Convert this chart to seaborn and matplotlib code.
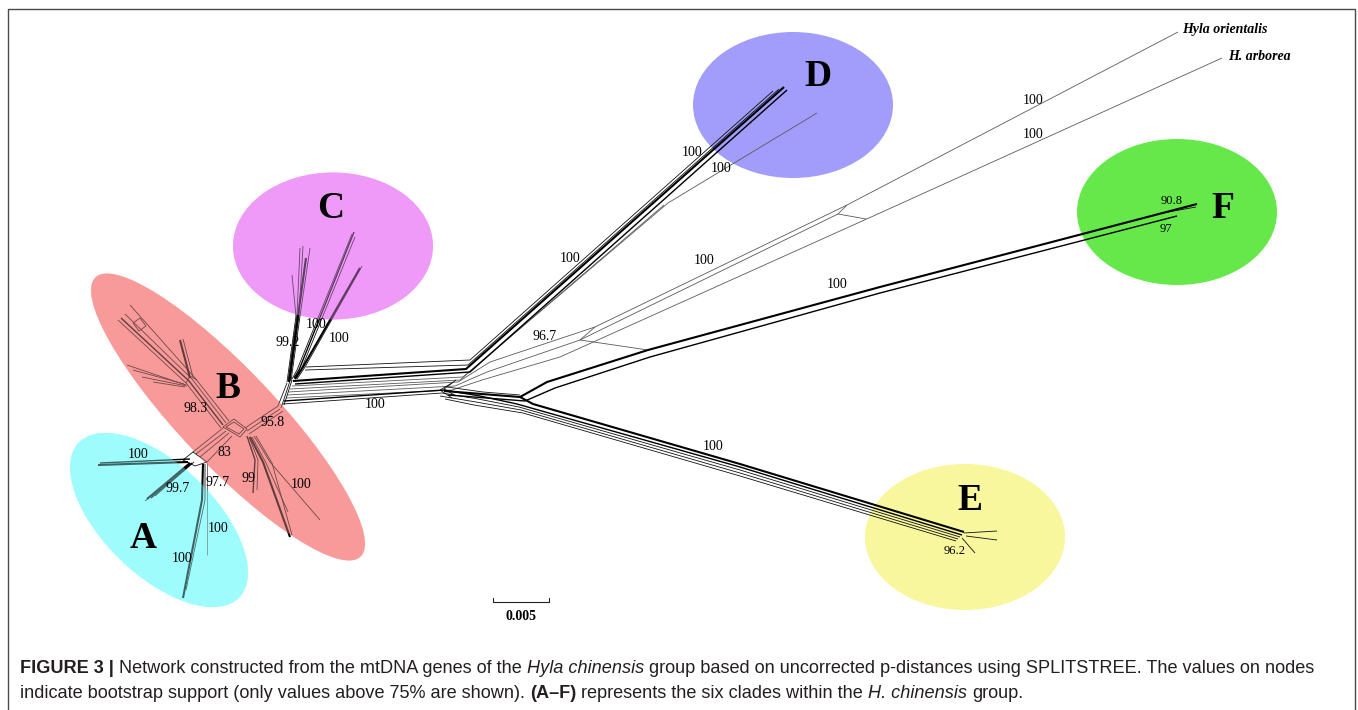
import matplotlib
matplotlib.use("Agg")
import matplotlib.pyplot as plt
from matplotlib.patches import Ellipse
import pandas as pd
import seaborn as sns

W, H = 1358, 710

# --- clade ellipses (positions in pixels of the original figure) ---
clade_names = ['A', 'B', 'C', 'D', 'E', 'F']
clade_x = [159, 228, 333, 793, 965, 1177]
clade_y = [520, 417, 246, 105, 537, 212]
clade_w = [223, 385, 200, 200, 200, 200]
clade_h = [111, 96, 147, 146, 146, 146]
clade_angle = [44, 46.5, 0, 0, 0, 0]
clade_colors = ['#9ffcfd', '#f99a9a', '#ef9af8', '#a29dfb', '#f8f79d', '#66e84b']
clade_label_x = [143, 228, 331, 818, 970, 1223]
clade_label_y = [538, 388, 209, 77, 501, 208]
tinted = ['A', 'B', 'C']   # network lines show through these ones

# --- network edges (polylines), grouped by weight ---
heavy_edges = [
    [(293, 381), (466, 369), (784, 87)],
    [(444, 391), (520, 397), (547, 382), (648, 350), (880, 287), (1197, 204)],
    [(520, 397), (533, 404), (740, 464), (964, 532)],
    [(203, 464), (202, 500), (183, 598)],
    [(190, 463), (147, 499)],
    [(188, 462), (98, 465)],
    [(250, 437), (263, 462), (290, 537)],
    [(190, 378), (180, 340)],
    [(289, 382), (298, 316), (306, 258)],
    [(295, 379), (303, 367), (360, 268)],
]
medium_edges = [
    [(295, 384), (470, 372), (787, 90)],
    [(190, 459), (100, 463)],
    [(192, 463), (151, 498)],
    [(294, 378), (299, 370), (354, 232)],
    [(247, 436), (255, 460), (253, 493)],
    [(223, 425), (189, 381), (121, 318)],
    [(284, 401), (444, 390), (480, 396), (517, 404), (740, 467), (962, 535)],
    [(448, 395), (525, 401), (555, 388), (650, 357), (880, 293), (1177, 216)],
]
thin_edges = [
    # centre to D
    [(306, 367), (470, 360), (773, 91)],
    [(305, 370), (468, 365), (779, 89)],
    # centre to E
    [(283, 404), (442, 393), (478, 399), (519, 407), (740, 470), (960, 537)],
    [(440, 396), (476, 402), (521, 410), (740, 473), (958, 539)],
    [(445, 399), (474, 405), (523, 413), (740, 476), (956, 541)],
    [(964, 533), (997, 531)],
    [(966, 536), (997, 540)],
    [(962, 538), (975, 553)],
    # hub tangles
    [(452, 383), (440, 390), (452, 398)],
    [(456, 380), (444, 389), (456, 396)],
    [(447, 387), (483, 392), (520, 395)],
    # F tip
    [(1157, 214), (1196, 207)],
    # clade A
    [(189, 466), (145, 501)],
    [(194, 462), (155, 496)],
    [(205, 464), (205, 500), (186, 590)],
    [(183, 460), (193, 452), (207, 462), (195, 466), (183, 460)],
    [(193, 452), (223, 428)],
    [(196, 454), (226, 431)],
    [(200, 457), (229, 433)],
    [(207, 462), (232, 436)],
    # clade B
    [(223, 427), (234, 419), (247, 429), (240, 437), (223, 427)],
    [(226, 427), (234, 422), (244, 429), (239, 434), (226, 427)],
    [(245, 428), (278, 406)],
    [(247, 431), (280, 409)],
    [(249, 434), (283, 411)],
    [(226, 423), (192, 379), (125, 314)],
    [(229, 421), (195, 378), (130, 305)],
    [(221, 428), (186, 383), (118, 320)],
    [(186, 383), (190, 376), (197, 380)],
    [(193, 377), (183, 339)],
    [(186, 385), (127, 365)],
    [(187, 386), (142, 377)],
    [(185, 387), (153, 382)],
    [(184, 384), (133, 370)],
    [(133, 323), (140, 318), (146, 326), (139, 331), (133, 323)],
    [(249, 437), (258, 460), (257, 490)],
    [(252, 437), (266, 463), (288, 512)],
    [(254, 436), (270, 462), (320, 520)],
    [(256, 436), (272, 463), (292, 535)],
    # clade C
    [(278, 406), (287, 383)],
    [(281, 408), (290, 381)],
    [(284, 405), (292, 380)],
    [(287, 382), (296, 316), (292, 275)],
    [(288, 382), (297, 315), (300, 248)],
    [(290, 381), (299, 315), (303, 246)],
    [(291, 381), (300, 316), (310, 248)],
    [(292, 379), (297, 370), (352, 234)],
    [(296, 378), (301, 370), (355, 237)],
    [(297, 379), (305, 367), (362, 266)],
]
faint_edges = [
    [(292, 386), (463, 377), (668, 203), (817, 113)],
    [(290, 389), (460, 380), (664, 205)],
    [(288, 392), (458, 382), (490, 362), (595, 327), (847, 205), (1178, 32)],
    [(287, 395), (455, 386), (487, 372), (580, 340), (838, 214), (866, 219)],
    [(286, 398), (452, 390), (482, 380), (560, 357), (880, 213), (1222, 58)],
    [(595, 327), (580, 340), (648, 350)],
    [(847, 205), (838, 214)],
    [(207, 463), (207, 555)],
]

# --- bootstrap values ---
boot_text = ['100', '99.7', '97.7', '100', '100', '98.3', '83', '99', '100', '95.8',
             '99.2', '100', '100', '100', '96.7', '100', '100', '100', '100', '100',
             '100', '100', '100']
boot_x = [138, 178, 218, 218, 182, 196, 224, 248, 301, 273,
          288, 316, 339, 375, 545, 570, 692, 721, 704, 1033,
          1033, 837, 713]
boot_y = [455, 489, 483, 529, 559, 408, 452, 479, 485, 423,
          343, 325, 338, 405, 336, 258, 153, 169, 260, 101,
          135, 285, 446]
small_text = ['90.8', '97', '96.2']
small_x = [1172, 1166, 955]
small_y = [201, 229, 551]

taxa = ['Hyla orientalis', 'H. arborea']
taxa_x = [1182, 1228]
taxa_y = [30, 57]

scale_x = [493, 493, 549, 549]
scale_y = [598, 602, 602, 598]

frame_x = [7.5, 7.5, 1355, 1355]
frame_y = [710, 8.5, 8.5, 710]

caption_lines = [
    [("FIGURE 3 |", 'bold', 'normal'),
     ("Network constructed from the mtDNA genes of the", 'normal', 'normal'),
     ("Hyla chinensis", 'normal', 'italic'),
     ("group based on uncorrected p-distances using SPLITSTREE. The values on nodes", 'normal', 'normal')],
    [("indicate bootstrap support (only values above 75% are shown).", 'normal', 'normal'),
     ("(A\u2013F)", 'bold', 'normal'),
     ("represents the six clades within the", 'normal', 'normal'),
     ("H. chinensis", 'normal', 'italic'),
     ("group.", 'normal', 'normal')],
]
caption_baseline = [673, 698]

sns.set_theme(style="white")
plt.rcParams['font.family'] = ['Liberation Serif', 'DejaVu Serif']
plt.rcParams['text.color'] = 'black'

fig = plt.figure(figsize=(W / 100, H / 100), dpi=100)
ax = fig.add_axes([0, 0, 1, 1])

# ellipses underneath
for name, x, y, w, h, a, c in zip(clade_names, clade_x, clade_y, clade_w, clade_h,
                                  clade_angle, clade_colors):
    ax.add_patch(Ellipse((x, y), w, h, angle=a, facecolor=c, edgecolor='none', zorder=0))
    if name in tinted:
        ax.add_patch(Ellipse((x, y), w, h, angle=a, facecolor=c, edgecolor='none',
                             alpha=0.4, zorder=3))

# network lines via seaborn
groups = {'heavy': heavy_edges, 'medium': medium_edges, 'thin': thin_edges, 'faint': faint_edges}
styles = {'heavy': dict(color='black', linewidth=1.5),
          'medium': dict(color='black', linewidth=1.0),
          'thin': dict(color='#111111', linewidth=0.6),
          'faint': dict(color='#5a5a5a', linewidth=0.6)}
rows = []
for g, edges in groups.items():
    for i, line in enumerate(edges):
        for j, (x, y) in enumerate(line):
            rows.append({'group': g, 'edge': f'{g}{i}', 'step': j, 'x': x, 'y': y})
net = pd.DataFrame(rows)
for g in ['faint', 'thin', 'medium', 'heavy']:
    sub = net[net['group'] == g]
    sns.lineplot(data=sub, x='x', y='y', units='edge', estimator=None, sort=False,
                 ax=ax, legend=False, zorder=2, solid_capstyle='butt', **styles[g])

# scale bar and frame
ax.plot(scale_x, scale_y, color='#222222', lw=0.8, zorder=2)
ax.plot(frame_x, frame_y, color='#4a4a4a', lw=1.0, zorder=6, clip_on=False)

# texts
for t, x, y in zip(boot_text, boot_x, boot_y):
    ax.text(x, y, t, fontsize=10, color='black', ha='center', va='center', zorder=5)
for t, x, y in zip(small_text, small_x, small_y):
    ax.text(x, y, t, fontsize=9, color='black', ha='center', va='center', zorder=5)
for t, x, y in zip(taxa, taxa_x, taxa_y):
    ax.text(x, y, t, fontsize=10, color='black', weight='bold', style='italic',
            ha='left', va='center', zorder=5)
for n, x, y in zip(clade_names, clade_label_x, clade_label_y):
    ax.text(x, y, n, fontsize=27, color='black', weight='bold', ha='center', va='center', zorder=5)
ax.text(521, 617, '0.005', fontsize=10, color='black', weight='bold', ha='center', va='center', zorder=5)

ax.set_xlim(0, W)
ax.set_ylim(H, 0)
ax.axis('off')

# caption, fitted to the original line length
cap_family = ['Liberation Sans', 'DejaVu Sans']
fig.canvas.draw()
rend = fig.canvas.get_renderer()


def text_width(s, size, weight, style):
    t = ax.text(0, 0, s, fontsize=size, weight=weight, style=style, family=cap_family)
    w = t.get_window_extent(rend).width
    t.remove()
    return w


base = 12
space = text_width('x x', base, 'normal', 'normal') - text_width('xx', base, 'normal', 'normal')
first = sum(text_width(s, base, wt, st) for s, wt, st in caption_lines[0])
first += space * (len(caption_lines[0]) - 1)
size = base * 1302 / first
space = space * size / base

for segs, yb in zip(caption_lines, caption_baseline):
    x = 20
    for k, (s, wt, st) in enumerate(segs):
        if k:
            x += space
        t = ax.text(x, yb, s, fontsize=size, weight=wt, style=st, family=cap_family,
                    color='#231f20', ha='left', va='baseline', zorder=5)
        x += t.get_window_extent(rend).width

fig.savefig('out.png', dpi=100)
